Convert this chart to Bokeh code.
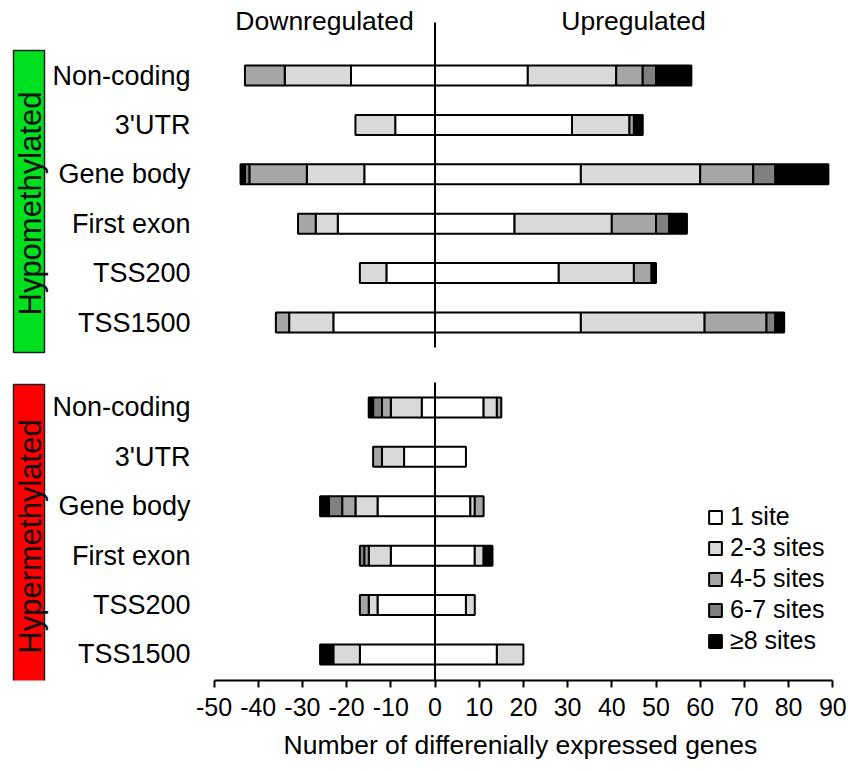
import math
from bokeh.plotting import figure
from bokeh.models import Range1d, FixedTicker, Legend, LegendItem, ColumnDataSource, Title
from bokeh.core.properties import value
from bokeh.embed import file_html
from bokeh.resources import INLINE

# ---------------- data ----------------
categories = ["Non-coding", "3'UTR", "Gene body", "First exon", "TSS200", "TSS1500"]
site_classes = ["1 site", "2-3 sites", "4-5 sites", "6-7 sites", "\u22658 sites"]
site_colors = ["#FFFFFF", "#D9D9D9", "#A6A6A6", "#808080", "#000000"]
group_names = ["Hypomethylated", "Hypermethylated"]
group_colors = ["#00E01E", "#FF0000"]

# counts per category; columns follow site_classes
hypo_down = [[19, 15, 9, 0, 0], [9, 9, 0, 0, 0], [16, 13, 13, 1, 1],
             [22, 5, 4, 0, 0], [11, 6, 0, 0, 0], [23, 10, 3, 0, 0]]
hypo_up = [[21, 20, 6, 3, 8], [31, 13, 1, 0, 2], [33, 27, 12, 5, 12],
           [18, 22, 10, 3, 4], [28, 17, 4, 0, 1], [33, 28, 14, 2, 2]]
hyper_down = [[3, 7, 2, 2, 1], [7, 5, 2, 0, 0], [13, 5, 3, 3, 2],
              [10, 5, 1, 1, 0], [13, 2, 2, 0, 0], [17, 6, 0, 0, 3]]
hyper_up = [[11, 3, 1, 0, 0], [7, 0, 0, 0, 0], [8, 1, 2, 0, 0],
            [9, 2, 0, 0, 2], [7, 2, 0, 0, 0], [14, 6, 0, 0, 0]]

x_ticks = list(range(-50, 100, 10))
x_tick_labels = [str(t) for t in x_ticks]
x_title = "Number of differenially expressed genes"
header_down = "Downregulated"
header_up = "Upregulated"

# ---------------- layout ----------------
W, H = 848, 771
FRAME_H = 680
X0_PX = 434.5       # pixel of x = 0
X_SCALE = 4.42      # pixels per unit
ROW0_PX = 75.0      # pixel of first row
ROW_STEP = 49.4     # pixels per row
GROUP_GAP = 1.72    # extra rows between the two groups

x_start = -X0_PX / X_SCALE
x_end = (W - X0_PX) / X_SCALE
y_top = -ROW0_PX / ROW_STEP
y_bottom = (FRAME_H - ROW0_PX) / ROW_STEP


def xd(px):
    return (px - X0_PX) / X_SCALE


def yd(px):
    return (px - ROW0_PX) / ROW_STEP


FONT = value("Liberation Sans")

p = figure(width=W, height=H, output_backend="svg", toolbar_location=None,
           x_range=Range1d(x_start, x_end), y_range=Range1d(y_bottom, y_top),
           y_axis_location=None, min_border_left=0, min_border_right=0,
           min_border_top=0, min_border_bottom=H - FRAME_H)
p.grid.visible = False
p.outline_line_color = None
p.background_fill_color = "white"

n = len(categories)
group_rows = [0.0, (n - 1) + GROUP_GAP]

# group side boxes
box_src = ColumnDataSource(dict(
    left=[xd(13), xd(13)], right=[xd(44), xd(44)],
    top=[yd(50), yd(384)], bottom=[yd(352), yd(686)],
    color=group_colors))
p.quad(left="left", right="right", top="top", bottom="bottom", source=box_src,
       fill_color="color", line_color="#222222", line_width=1.5)
p.text(x=[xd(30), xd(30)], y=[yd(203), yd(536)], text=group_names,
       angle=math.pi / 2, text_align="center", text_baseline="middle",
       text_font=FONT, text_font_size=value("31px"), text_color="#111111")

# bar segments
segs = [dict(y=[], left=[], right=[]) for _ in site_colors]
for gi, (down, up) in enumerate([(hypo_down, hypo_up), (hyper_down, hyper_up)]):
    for i in range(n):
        y = group_rows[gi] + i
        for counts, sign in ((down[i], -1), (up[i], 1)):
            cum = 0
            for k, c in enumerate(counts):
                if c <= 0:
                    continue
                a, b = sign * cum, sign * (cum + c)
                segs[k]["y"].append(y)
                segs[k]["left"].append(min(a, b))
                segs[k]["right"].append(max(a, b))
                cum += c

renderers = []
for k, col in enumerate(site_colors):
    r = p.hbar(y="y", left="left", right="right", height=0.405,
               source=ColumnDataSource(segs[k]), fill_color=col,
               line_color="black", line_width=2)
    renderers.append(r)

# zero line (two pieces)
p.segment(x0=[0, 0], x1=[0, 0], y0=[yd(22), yd(382)], y1=[yd(347), y_bottom],
          line_color="black", line_width=2)

# category labels
lab_y = [group_rows[g] + i for g in range(2) for i in range(n)]
p.text(x=[xd(190)] * len(lab_y), y=lab_y, text=categories * 2,
       text_align="right", text_baseline="middle", text_font=FONT,
       text_font_size=value("27px"), text_color="black")

# headers
p.text(x=[xd(324), xd(633)], y=[yd(20), yd(20)], text=[header_down, header_up],
       text_align="center", text_baseline="middle", text_font=FONT,
       text_font_size=value("26.5px"), text_color="black")

# x axis
ax = p.xaxis[0]
ax.ticker = FixedTicker(ticks=x_ticks)
ax.major_label_overrides = {t: s for t, s in zip(x_ticks, x_tick_labels)}
ax.bounds = (x_ticks[0], x_ticks[-1])
ax.minor_tick_line_color = None
ax.major_tick_in = 0
ax.major_tick_out = 7
ax.major_tick_line_width = 2
ax.axis_line_width = 2
ax.major_label_standoff = 10
ax.major_label_text_font = "Liberation Sans"
ax.major_label_text_font_size = "25px"
ax.major_label_text_color = "black"

# axis title, placed under the drawn axis span
p.add_layout(Title(text=x_title, align="left", offset=283, standoff=19,
                   text_font="Liberation Sans", text_font_size="26.5px",
                   text_font_style="normal", text_color="black"), "below")

# legend
legend = Legend(items=[LegendItem(label=lab, renderers=[r])
                       for lab, r in zip(site_classes, renderers)],
                location=(707, 25), orientation="vertical",
                glyph_width=16, glyph_height=16, label_standoff=7,
                label_text_font="Liberation Sans", label_text_font_size="25px",
                label_text_color="black",
                label_height=24, spacing=2, padding=0, margin=0,
                border_line_color=None, background_fill_alpha=0)
p.add_layout(legend)

open("out.html", "w").write(file_html(p, INLINE))
